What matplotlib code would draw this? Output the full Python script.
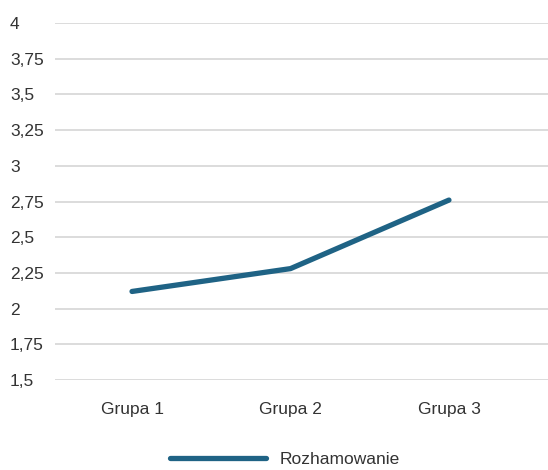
import matplotlib.pyplot as plt
from matplotlib.ticker import FuncFormatter

plt.rcParams['font.family'] = ['Liberation Sans', 'DejaVu Sans']

groups = ['Grupa 1', 'Grupa 2', 'Grupa 3']
rozhamowanie = [2.12, 2.28, 2.76]
y_ticks = [1.5, 1.75, 2, 2.25, 2.5, 2.75, 3, 3.25, 3.5, 3.75, 4]

line_color = '#1f6385'
text_color = '#333333'

fig = plt.figure(figsize=(5.48, 4.70), dpi=100)
ax = fig.add_axes([55 / 548, 1 - 380 / 470, 493 / 548, 357 / 470])

x = list(range(len(groups)))
ax.plot(x, rozhamowanie, color=line_color, linewidth=3.8,
        solid_capstyle='round', solid_joinstyle='round', label='Rozhamowanie', zorder=3)

ax.set_ylim(1.5, 4)
ax.set_xlim(-0.486, 2.625)
ax.set_yticks(y_ticks)
ax.yaxis.set_major_formatter(FuncFormatter(lambda v, p: f'{v:g}'.replace('.', ',')))
ax.set_xticks(x)
ax.set_xticklabels(groups)

ax.grid(axis='y', color='#d9d9d9', linewidth=1.3)
ax.set_axisbelow(True)
for s in ax.spines.values():
    s.set_visible(False)
ax.tick_params(axis='both', length=0, labelsize=12.5, colors=text_color)
ax.tick_params(axis='y', pad=0)
for lbl in ax.get_yticklabels():
    lbl.set_horizontalalignment('left')
    lbl.set_x(-55 / 493 + 10 / 493)
ax.tick_params(axis='x', pad=16)

leg = fig.legend(loc='center', bbox_to_anchor=(285 / 548, 1 - 459 / 470), frameon=False,
                 fontsize=12.5, handlelength=5.5, handletextpad=0.8)
for t in leg.get_texts():
    t.set_color(text_color)

fig.savefig('out.png', dpi=100)
